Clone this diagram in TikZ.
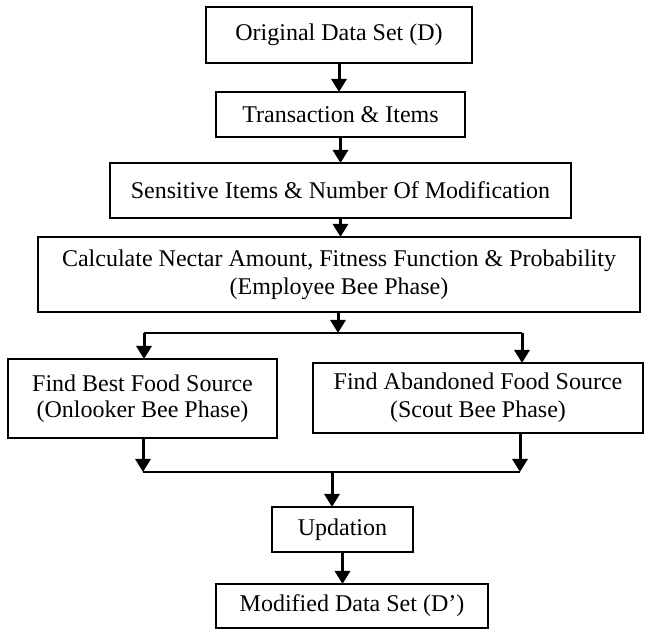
\documentclass[tikz,border=0pt]{standalone}
\usepackage{fontspec}
\setmainfont{Liberation Serif}
\usepackage{tikz}
\usetikzlibrary{arrows.meta,positioning,calc}

\tikzset{
  stepbox/.style={draw,line width=1pt,inner sep=0pt,outer sep=0pt,align=center,
    font=\fontsize{12}{14}\selectfont},
  flow/.style={line width=1.5pt,-{Triangle[width=7.5pt,length=6.5pt]}},
  busline/.style={line width=1pt}
}

\begin{document}
\begin{tikzpicture}[x=0.5pt,y=-0.5pt]
  \useasboundingbox (0,0) rectangle (649,630);
  % boxes
  \node[stepbox,minimum width=133pt,minimum height=28pt] (orig) at (339,35)
    {Original Data Set (D)};
  \node[stepbox,minimum width=124.5pt,minimum height=22.5pt] (trans) at (340.5,114.5)
    {Transaction \& Items};
  \node[stepbox,minimum width=230.5pt,minimum height=27.5pt] (sens) at (340.5,190.5)
    {Sensitive Items \& Number Of Modification};
  \node[stepbox,minimum width=301pt,minimum height=37.5pt] (calc) at (339,274.5)
    {Calculate Nectar Amount, Fitness Function \& Probability\\(Employee Bee Phase)};
  \node[stepbox,minimum width=134.5pt,minimum height=39.5pt,
    font=\fontsize{12}{13}\selectfont] (best) at (142.5,398.5)
    {Find Best Food Source\\(Onlooker Bee Phase)};
  \node[stepbox,minimum width=165pt,minimum height=35pt] (aband) at (478,398)
    {Find Abandoned Food Source\\(Scout Bee Phase)};
  \node[stepbox,minimum width=70.5pt,minimum height=22.5pt] (upd) at (342.5,529.5)
    {Updation};
  \node[stepbox,minimum width=136pt,minimum height=22pt] (modif) at (352,606)
    {Modified Data Set (D’)};
  % split and join points
  \coordinate (splitL) at (144,333);
  \coordinate (splitC) at (338,333);
  \coordinate (splitR) at (522,333);
  \coordinate (joinL) at (143,472);
  \coordinate (joinC) at (332,472);
  \coordinate (joinR) at (520,472);
  % arrows
  \draw[flow] (orig.south) -- (orig.south |- trans.north);
  \draw[flow] (trans.south) -- (trans.south |- sens.north);
  \draw[flow] (sens.south) -- (sens.south |- calc.north);
  \draw[flow] (calc.south -| splitC) -- (splitC);
  \draw[busline] (splitL) -- (splitR);
  \draw[flow] (splitL) -- (splitL |- best.north);
  \draw[flow] (splitR) -- (splitR |- aband.north);
  \draw[flow] (best.south -| joinL) -- (joinL);
  \draw[flow] (aband.south -| joinR) -- (joinR);
  \draw[busline] (joinL) -- (joinR);
  \draw[flow] (joinC) -- (joinC |- upd.north);
  \draw[flow] (upd.south) -- (upd.south |- modif.north);
\end{tikzpicture}
\end{document}
